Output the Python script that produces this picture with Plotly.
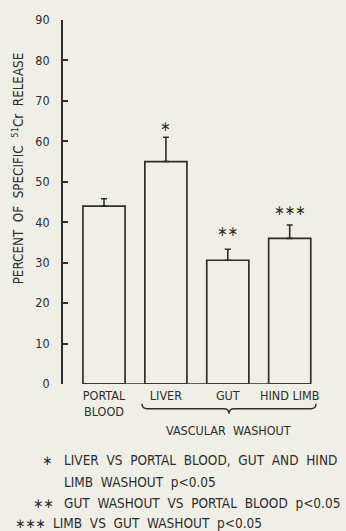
import plotly.graph_objects as go

# Data
categories = ["PORTAL<br>BLOOD", "LIVER", "GUT", "HIND LIMB"]
release_pct = [44.0, 55.0, 30.6, 36.0]
release_sem = [1.8, 6.0, 2.7, 3.3]
significance = ["", "∗", "∗∗", "∗∗∗"]
y_ticks = [0, 10, 20, 30, 40, 50, 60, 70, 80, 90]
footnote_marks = ["∗", "", "∗∗", "∗∗∗"]
footnote_texts = [
    "LIVER  VS  PORTAL  BLOOD,  GUT  AND  HIND",
    "LIMB  WASHOUT  p<0.05",
    "GUT  WASHOUT  VS  PORTAL  BLOOD  p<0.05",
    "LIMB  VS  GUT  WASHOUT  p<0.05",
]

BG = "#efeee7"
INK = "#2e2e2e"
FONT = "DejaVu Sans Condensed, DejaVu Sans, sans-serif"

W, H = 346, 531
L, R, T, B = 63, 20, 16, 147
PW, PH = W - L - R, H - T - B

BAR_W = 0.68
xs = list(range(len(categories)))

# pixel gap between each error-bar cap and its significance stars
star_gap = [0, 11, 18, 15]


def px_x(p):
    return (p - L) / PW


def px_y(p):
    return (H - B - p) / PH


fig = go.Figure()

fig.add_trace(go.Bar(
    x=xs,
    y=release_pct,
    width=BAR_W,
    marker=dict(color="rgba(0,0,0,0)", line=dict(color=INK, width=1.7)),
    error_y=dict(type="data", symmetric=False, array=release_sem,
                 arrayminus=[0] * len(release_sem),
                 color=INK, thickness=1.6, width=3),
    hoverinfo="skip",
))

# Significance stars above the error bars
for x, v, e, s, g in zip(xs, release_pct, release_sem, significance, star_gap):
    if s:
        fig.add_annotation(x=x, y=v + e, text=s, showarrow=False,
                           yanchor="middle", yshift=g,
                           font=dict(family=FONT, size=14, color=INK))

# Baseline joining the bar bottoms
fig.add_shape(type="line", xref="x", yref="y",
              x0=xs[0] - BAR_W / 2, x1=xs[-1] + BAR_W / 2, y0=0, y1=0,
              line=dict(color=INK, width=1.7))

# Brace grouping the washout bars
bx0 = px_x(142)
bx1 = px_x(316)
bxm = (bx0 + bx1) / 2
y_top, y_mid, y_tip = px_y(404), px_y(409), px_y(414)
dx = 0.02
path = (f"M {bx0},{y_top} Q {bx0},{y_mid} {bx0+dx},{y_mid} "
        f"L {bxm-dx},{y_mid} Q {bxm},{y_mid} {bxm},{y_tip} "
        f"Q {bxm},{y_mid} {bxm+dx},{y_mid} "
        f"L {bx1-dx},{y_mid} Q {bx1},{y_mid} {bx1},{y_top}")
fig.add_shape(type="path", xref="paper", yref="paper", path=path,
              line=dict(color=INK, width=1.4))

fig.add_annotation(xref="paper", yref="paper", x=px_x(228), y=px_y(431),
                   text="VASCULAR  WASHOUT", showarrow=False,
                   xanchor="center", yanchor="middle",
                   font=dict(family=FONT, size=12.5, color=INK))

# Y-axis title
fig.add_annotation(xref="paper", yref="paper", x=px_x(18), y=px_y(166),
                   text="PERCENT  OF  SPECIFIC  <sup>51</sup>Cr  RELEASE",
                   textangle=-90, showarrow=False,
                   xanchor="center", yanchor="middle",
                   font=dict(family=FONT, size=13.3, color=INK))

# Footnotes
line_y = [461, 483, 504, 525]
text_x = [62, 62, 62, 51]
mark_right = [54, 0, 55, 48]
for mark, txt, ly, tx, mr in zip(footnote_marks, footnote_texts, line_y,
                                 text_x, mark_right):
    if mark:
        fig.add_annotation(xref="paper", yref="paper", x=px_x(mr),
                           y=px_y(ly), text=mark, showarrow=False,
                           xanchor="right", yanchor="middle",
                           font=dict(family=FONT, size=13.5, color=INK))
    fig.add_annotation(xref="paper", yref="paper", x=px_x(tx), y=px_y(ly),
                       text=txt, showarrow=False,
                       xanchor="left", yanchor="middle",
                       font=dict(family=FONT, size=13.5, color=INK))

fig.update_layout(
    width=W, height=H,
    margin=dict(l=L, r=R, t=T, b=B),
    paper_bgcolor=BG, plot_bgcolor=BG,
    showlegend=False,
    font=dict(family=FONT, size=12.5, color=INK),
    xaxis=dict(range=[-(104 - L) / 61.9, (W - R - 104) / 61.9],
               tickvals=xs, ticktext=categories, ticks="",
               showline=False, showgrid=False, zeroline=False,
               ticklabelstandoff=2,
               tickfont=dict(family=FONT, size=12.5, color=INK)),
    yaxis=dict(range=[0, 90], tickvals=y_ticks, ticks="inside", ticklen=5,
               tickwidth=1.6, tickcolor=INK, showline=True, linecolor=INK,
               linewidth=1.7, showgrid=False, zeroline=False,
               ticklabelstandoff=9,
               tickfont=dict(family=FONT, size=12.5, color=INK)),
)

fig.write_html("out.html")
